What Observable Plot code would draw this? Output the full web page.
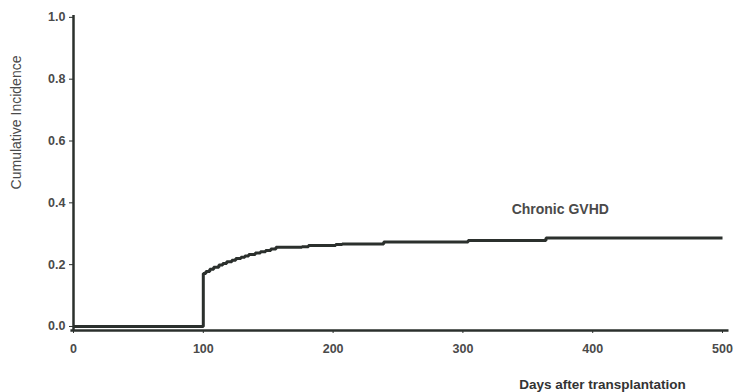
<!DOCTYPE html>
<html>
<head>
<meta charset="utf-8">
<script src="https://cdn.jsdelivr.net/npm/d3@7"></script>
<script src="https://cdn.jsdelivr.net/npm/@observablehq/plot@0.6"></script>
<style>
  html, body { margin: 0; padding: 0; background: #fff; }
  #chart svg { display: block; }
</style>
</head>
<body>
<div id="chart"></div>
<script>
// Step curve: days after transplantation and cumulative incidence (step-after)
const days = [0, 100, 102, 105, 108, 112, 115, 118, 122, 125, 129, 132, 135, 140, 144, 148, 152, 156, 176, 181, 202, 207, 239, 304, 364, 500];
const cum  = [0, 0.171, 0.178, 0.185, 0.192, 0.199, 0.204, 0.209, 0.214, 0.220, 0.224, 0.228, 0.233, 0.238, 0.242, 0.246, 0.251, 0.256, 0.258, 0.262, 0.265, 0.267, 0.273, 0.278, 0.286, 0.286];

const xTicks = [0, 100, 200, 300, 400, 500];
const yTicks = [0, 0.2, 0.4, 0.6, 0.8, 1.0];

const seriesLabel = ["Chronic GVHD"];
const seriesLabelPos = { x: 375, y: 0.378 };
const xLabel = "Days after transplantation";
const yLabel = "Cumulative Incidence";

const data = days.map((d, i) => ({ day: d, value: cum[i] }));

const ink = "#2b302d";
const textColor = "#4a4a4a";

const chart = Plot.plot({
  width: 736,
  height: 392,
  marginLeft: 73,
  marginRight: 7.5,
  marginTop: 15,
  marginBottom: 62,
  style: { fontFamily: "'Liberation Sans', Arial, sans-serif", background: "#fff" },
  x: { domain: [0, 505] },
  y: { domain: [-0.013, 1.006] },
  marks: [
    Plot.axisX({
      ticks: xTicks, tickSize: 3, tickPadding: 11, label: null,
      fontSize: 12.5, fontWeight: "bold", fill: textColor, stroke: ink, strokeWidth: 1
    }),
    Plot.axisY({
      ticks: yTicks, tickSize: 4, tickPadding: 4, label: null,
      tickFormat: d3.format(".1f"),
      fontSize: 12.5, fontWeight: "bold", fill: textColor, stroke: ink, strokeWidth: 1
    }),
    Plot.ruleY([-0.013], { stroke: ink, strokeWidth: 2.5, x1: -2, x2: 505 }),
    Plot.ruleX([0], { stroke: ink, strokeWidth: 2.5, y1: -0.016, y2: 1.006 }),
    Plot.line(data, {
      x: "day", y: "value", curve: "step-after",
      stroke: ink, strokeWidth: 3, strokeLinejoin: "miter", strokeLinecap: "butt"
    }),
    Plot.text(seriesLabel, {
      x: () => seriesLabelPos.x, y: () => seriesLabelPos.y, text: d => d,
      fontSize: 14, fontWeight: "bold", fill: textColor
    }),
    Plot.text([xLabel], {
      x: () => 407.5, y: () => -0.013, text: d => d, dy: 54,
      fontSize: 13.5, fontWeight: "bold", fill: "#333"
    }),
    Plot.text([yLabel], {
      x: () => 0, y: () => 0.66, text: d => d, dx: -57, rotate: -90,
      fontSize: 14, fill: textColor
    })
  ]
});

document.getElementById("chart").appendChild(chart);
</script>
</body>
</html>
